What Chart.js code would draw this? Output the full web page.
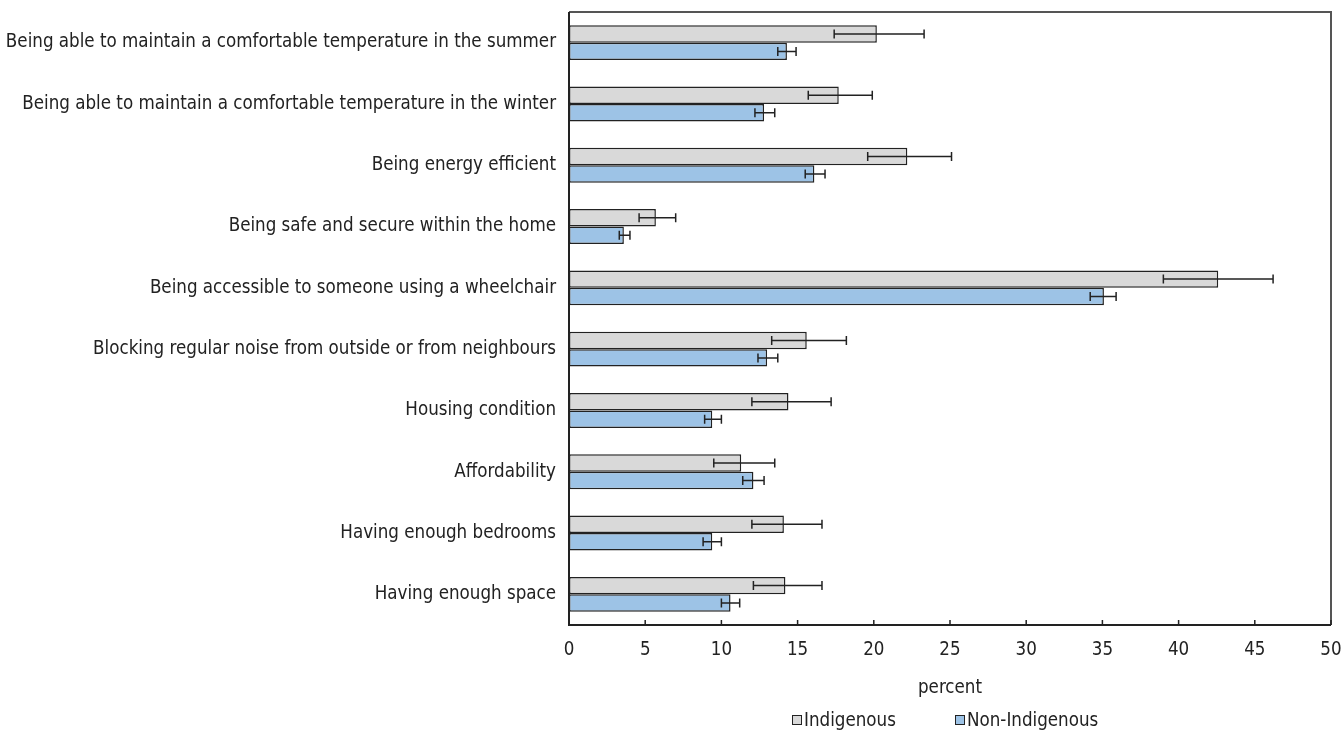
<!DOCTYPE html>
<html>
<head>
<meta charset="utf-8">
<script src="https://cdn.jsdelivr.net/npm/chart.js@4.4.1/dist/chart.umd.min.js"></script>
<style>
  html, body { margin: 0; padding: 0; background: #fff; }
  #wrap { width: 1344px; height: 736px; }
</style>
</head>
<body>
<div id="wrap"><canvas id="myChart" width="1344" height="736"></canvas></div>
<script>
const categories = [
  "Being able to maintain a comfortable temperature in the summer",
  "Being able to maintain a comfortable temperature in the winter",
  "Being energy efficient",
  "Being safe and secure within the home",
  "Being accessible to someone using a wheelchair",
  "Blocking regular noise from outside or from neighbours",
  "Housing condition",
  "Affordability",
  "Having enough bedrooms",
  "Having enough space"
];

const indigenous = [20.2, 17.7, 22.2, 5.7, 42.6, 15.6, 14.4, 11.3, 14.1, 14.2];
const indigenousLow = [17.4, 15.7, 19.6, 4.6, 39.0, 13.3, 12.0, 9.5, 12.0, 12.1];
const indigenousHigh = [23.3, 19.9, 25.1, 7.0, 46.2, 18.2, 17.2, 13.5, 16.6, 16.6];

const nonIndigenous = [14.3, 12.8, 16.1, 3.6, 35.1, 13.0, 9.4, 12.1, 9.4, 10.6];
const nonIndigenousLow = [13.7, 12.2, 15.5, 3.3, 34.2, 12.4, 8.9, 11.4, 8.8, 10.0];
const nonIndigenousHigh = [14.9, 13.5, 16.8, 4.0, 35.9, 13.7, 10.0, 12.8, 10.0, 11.2];

const xTicks = [0, 5, 10, 15, 20, 25, 30, 35, 40, 45, 50];

const FONT = "'DejaVu Sans Condensed', 'Liberation Sans Narrow', sans-serif";
const FONT_SIZE = 18.6;
const INK = "#222222";

// whiskers for the confidence intervals, drawn on top of each bar
const errorBars = {
  id: "errorBars",
  afterDatasetsDraw(chart) {
    const ctx = chart.ctx;
    const x = chart.scales.x;
    ctx.save();
    ctx.strokeStyle = INK;
    ctx.lineWidth = 1.5;
    chart.data.datasets.forEach((ds, i) => {
      const meta = chart.getDatasetMeta(i);
      meta.data.forEach((bar, j) => {
        const x1 = x.getPixelForValue(ds.low[j]);
        const x2 = x.getPixelForValue(ds.high[j]);
        const y = bar.y;
        ctx.beginPath();
        ctx.moveTo(x1, y); ctx.lineTo(x2, y);
        ctx.moveTo(x1, y - 4.5); ctx.lineTo(x1, y + 4.5);
        ctx.moveTo(x2, y - 4.5); ctx.lineTo(x2, y + 4.5);
        ctx.stroke();
      });
    });
    ctx.restore();
  }
};

// frame around the plot, inward tick marks and the legend row
const frame = {
  id: "frame",
  afterDraw(chart) {
    const { ctx, chartArea: a } = chart;
    const x = chart.scales.x;
    ctx.save();
    ctx.strokeStyle = "#555555";
    ctx.lineWidth = 2;
    ctx.beginPath();
    ctx.moveTo(a.left, a.top); ctx.lineTo(a.right, a.top); ctx.lineTo(a.right, a.bottom);
    ctx.stroke();
    ctx.strokeStyle = INK;
    ctx.beginPath();
    ctx.moveTo(a.left, a.top); ctx.lineTo(a.left, a.bottom); ctx.lineTo(a.right, a.bottom);
    ctx.stroke();
    ctx.lineWidth = 1.5;
    ctx.beginPath();
    xTicks.forEach(t => {
      const px = x.getPixelForValue(t);
      ctx.moveTo(px, a.bottom); ctx.lineTo(px, a.bottom - 5);
    });
    ctx.stroke();

    // legend
    const cx = (a.left + a.right) / 2;
    const ly = chart.height - 16;
    ctx.font = FONT_SIZE + "px " + FONT;
    ctx.textBaseline = "middle";
    ctx.textAlign = "left";
    ctx.lineWidth = 1;
    chart.data.datasets.forEach((ds, i) => {
      const bx = cx - 158 + i * 163;
      ctx.fillStyle = ds.backgroundColor;
      ctx.fillRect(bx + 0.5, ly - 4.5, 9, 9);
      ctx.strokeStyle = INK;
      ctx.strokeRect(bx + 0.5, ly - 4.5, 9, 9);
      ctx.fillStyle = INK;
      ctx.fillText(ds.label, bx + 12, ly + 1);
    });
    ctx.restore();
  }
};

new Chart(document.getElementById("myChart").getContext("2d"), {
  type: "bar",
  data: {
    labels: categories,
    datasets: [
      {
        label: "Indigenous",
        data: indigenous,
        low: indigenousLow,
        high: indigenousHigh,
        backgroundColor: "#d9d9d9",
        borderColor: INK,
        borderWidth: 1.5,
        borderSkipped: false
      },
      {
        label: "Non-Indigenous",
        data: nonIndigenous,
        low: nonIndigenousLow,
        high: nonIndigenousHigh,
        backgroundColor: "#9dc3e6",
        borderColor: INK,
        borderWidth: 1.5,
        borderSkipped: false
      }
    ]
  },
  options: {
    indexAxis: "y",
    responsive: false,
    animation: false,
    categoryPercentage: 0.57,
    barPercentage: 1.0,
    layout: { padding: { top: 12, right: 13, left: 0, bottom: 36 } },
    scales: {
      x: {
        min: 0,
        max: 50,
        afterBuildTicks(scale) { scale.ticks = xTicks.map(v => ({ value: v })); },
        afterFit(scale) {
          scale.height = 75;
          scale.paddingLeft = 0;
          scale.paddingRight = 0;
        },
        grid: { display: false, drawTicks: false },
        border: { display: false },
        ticks: { color: INK, padding: 14, font: { family: FONT, size: FONT_SIZE } },
        title: {
          display: true,
          text: "percent",
          color: INK,
          padding: { top: 4, bottom: 1 },
          font: { family: FONT, size: FONT_SIZE }
        }
      },
      y: {
        afterFit(scale) {
          scale.width = 569;
          scale.paddingTop = 0;
          scale.paddingBottom = 0;
        },
        grid: { display: false, drawTicks: false },
        border: { display: false },
        ticks: { color: INK, padding: 13, font: { family: FONT, size: FONT_SIZE } }
      }
    },
    plugins: {
      tooltip: { enabled: false },
      legend: { display: false }
    }
  },
  plugins: [errorBars, frame]
});
</script>
</body>
</html>
